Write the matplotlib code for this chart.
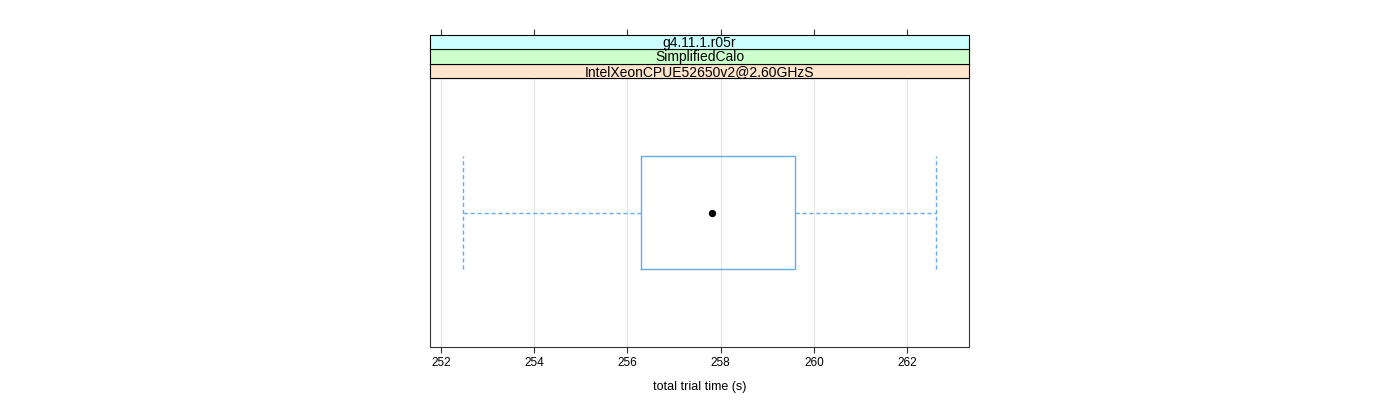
import matplotlib
matplotlib.use('Agg')
import matplotlib.pyplot as plt

plt.rcParams['font.family'] = ['Liberation Sans', 'DejaVu Sans']

# box statistics (seconds)
whisker_low = 252.47
q1 = 256.29
median = 257.82
q3 = 259.60
whisker_high = 262.62

strip_labels = ['g4.11.1.r05r', 'SimplifiedCalo', 'IntelXeonCPUE52650v2@2.60GHzS']
strip_colors = ['#ccffff', '#ccffcc', '#ffe5cc']
xticks = [252, 254, 256, 258, 260, 262]

box_col = '#66aaf2'

fig = plt.figure(figsize=(14, 4), dpi=100)
left, right = 430 / 1400, 969 / 1400
bottom, top = 53 / 400, 322 / 400
ax = fig.add_axes([left, bottom, right - left, top - bottom])

stats = [dict(whislo=whisker_low, q1=q1, med=median, q3=q3, whishi=whisker_high, fliers=[])]
ax.bxp(stats, positions=[1], widths=0.5, orientation='horizontal', capwidths=0.5,
       boxprops=dict(color=box_col, linewidth=1),
       whiskerprops=dict(color=box_col, linewidth=1, linestyle=(0, (3, 2))),
       capprops=dict(color=box_col, linewidth=1, linestyle=(0, (3, 2))),
       medianprops=dict(linewidth=0), manage_ticks=False)
ax.scatter([median], [1], s=18, color='black', zorder=5)

ax.set_xlim(251.764, 263.33)
ax.set_ylim(0.4, 1.6)
ax.set_yticks([])
ax.set_xticks(xticks)
ax.tick_params(axis='x', top=True, labeltop=False, direction='out', length=4,
               color='#333333', labelsize=8.5)
ax.grid(axis='x', color='#e6e6e6', linewidth=0.8)
ax.set_axisbelow(True)
for s in ax.spines.values():
    s.set_color('#333333')
ax.set_xlabel('total trial time (s)', fontsize=9, labelpad=8)

# strips above panel
strip_h = 14.3 / 400
for i, (lab, col) in enumerate(zip(reversed(strip_labels), reversed(strip_colors))):
    sax = fig.add_axes([left, top + i * strip_h, right - left, strip_h])
    sax.set_facecolor(col)
    sax.set_xticks([])
    sax.set_yticks([])
    for s in sax.spines.values():
        s.set_color('black')
        s.set_linewidth(0.8)
    sax.text(0.5, 0.45, lab, ha='center', va='center', fontsize=10, transform=sax.transAxes)

# top ticks sit above the strips
tax = fig.add_axes([left, top + 3 * strip_h, right - left, 0.001])
tax.set_xlim(ax.get_xlim())
tax.set_xticks(xticks)
tax.set_yticks([])
tax.tick_params(axis='x', top=True, bottom=False, labeltop=False, labelbottom=False,
                direction='out', length=4, color='#333333')
for s in tax.spines.values():
    s.set_visible(False)

fig.savefig('out.png', dpi=100)
